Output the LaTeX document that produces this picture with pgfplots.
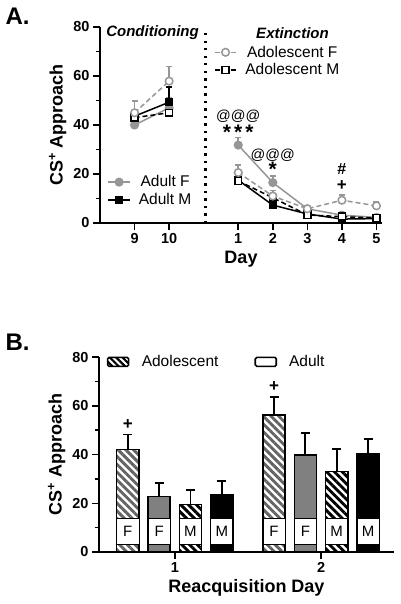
\documentclass[border=0pt]{standalone}
\usepackage{fontspec}
\setmainfont{Liberation Sans}
\usepackage{pgfplots}
\usepackage{pgfplotstable}
\pgfplotsset{compat=1.18}
\usetikzlibrary{patterns.meta}
\definecolor{lg}{RGB}{150,150,150}
\definecolor{bg}{RGB}{128,128,128}
\definecolor{hg}{RGB}{100,100,100}

\pgfplotstableread{
x AF AFe AM AMe DF DFe DM DMe
1 40.0 2.0 43.6 1.5 45.0 4.8 43.0 2.0
2 47.0 4.0 49.3 6.2 57.9 5.9 45.0 3.0
3 nan 0 nan 0 nan 0 nan 0
4 31.8 3.2 17.5 1.5 20.6 3.0 17.2 1.5
5 16.5 2.7 7.3 1.0 11.0 2.3 10.3 1.5
6 5.8 1.0 3.7 0.6 5.8 1.0 3.3 0.6
7 3.2 1.0 1.6 0.6 9.3 2.1 2.6 0.6
8 2.3 0.8 1.8 0.5 7.0 1.6 2.0 0.5
}\dataA

\pgfplotstableread{
x y e
0 42.1 6.1
4.67 56.3 7.2
}\adolF
\pgfplotstableread{
x y e
1 22.8 5.6
5.67 39.9 9.0
}\adultF
\pgfplotstableread{
x y e
2 19.4 5.9
6.67 33.1 9.3
}\adolM
\pgfplotstableread{
x y e
3 23.6 5.4
7.67 40.3 6.2
}\adultM

\pgfplotsset{
  common/.style={
    scale only axis,
    ymin=0, ymax=80,
    axis x line*=bottom, axis y line*=left,
    axis line style={line width=1.5pt},
    ytick={0,20,40,60,80}, minor ytick={10,30,50,70},
    tick style={line width=1.5pt, black},
    major tick length=7pt, minor tick length=4.5pt,
    tick align=outside,
    ticklabel style={font=\bfseries\fontsize{14.5}{14.5}\selectfont},
    /pgf/number format/assume math mode=true,
    label style={font=\bfseries\fontsize{18}{18}\selectfont},
    ylabel={CS\textsuperscript{+} Approach},
    clip=false,
  },
  lineleg/.style={legend image code/.code={
    \draw[mark repeat=2,mark phase=2,##1] plot coordinates {(0pt,0pt) (11pt,0pt) (22pt,0pt)};}},
  boxleg/.style={legend image code/.code={
    \draw[##1, rounded corners=1.5pt] (0pt,-4.5pt) rectangle (21pt,4.5pt);}},
}

\begin{document}
\begin{tikzpicture}
\useasboundingbox (0,0) rectangle (400pt,-604pt);

\node[anchor=west, font=\bfseries\fontsize{24}{24}\selectfont] at (2pt,-16pt) {A.};
\node[anchor=west, font=\bfseries\fontsize{24}{24}\selectfont] at (2pt,-342pt) {B.};

% ---------------- Panel A ----------------
\begin{axis}[common,
  at={(100pt,-223pt)}, anchor=south west,
  width=282pt, height=196pt,
  xmin=0, xmax=8.16,
  xtick={1,2,4,5,6,7,8}, xticklabels={9,10,1,2,3,4,5},
  xlabel={Day},
  unbounded coords=jump,
  lineleg,
  reverse legend,
  legend style={draw=none, fill=none, at={(axis cs:3.2,74)}, anchor=north west,
    font=\fontsize{15.5}{18}\selectfont, row sep=1pt,
    /tikz/every odd column/.append style={column sep=6pt}},
  error bars/y dir=plus, error bars/y explicit,
  error bars/error bar style={solid, line width=1.5pt},
  error bars/error mark options={solid, rotate=90, mark size=3pt, line width=1.5pt},
]
\addplot[lg, line width=1.5pt, mark=*, mark size=3.8pt, mark options={fill=lg, draw=lg}, forget plot]
  table[x=x, y=AF, y error=AFe] {\dataA};
\addplot[black, line width=1.5pt, mark=square*, mark size=3.4pt, mark options={fill=black}, forget plot]
  table[x=x, y=AM, y error=AMe] {\dataA};
\addplot[black, line width=1.5pt, dash pattern=on 5pt off 3pt, mark=square*, mark size=3.4pt, mark options={solid, fill=white, draw=black}]
  table[x=x, y=DM, y error=DMe] {\dataA};
\addlegendentry{Adolescent M}
\addplot[lg, line width=1.5pt, dash pattern=on 5pt off 3pt, mark=*, mark size=3.8pt, mark options={solid, fill=white, draw=lg}]
  table[x=x, y=DF, y error=DFe] {\dataA};
\addlegendentry{Adolescent F}

\draw[line width=2.2pt, dash pattern=on 2.2pt off 5.3pt] (axis cs:3.05,0) -- (axis cs:3.05,79);
\node[font=\bfseries\itshape\fontsize{15}{15}\selectfont] at (axis cs:1.52,77.6) {Conditioning};
\node[font=\bfseries\itshape\fontsize{15}{15}\selectfont] at (axis cs:5.57,77.6) {Extinction};

\node[inner sep=0pt, font=\fontsize{14.5}{14.5}\selectfont] at (axis cs:4,43.5) {@@@};
\node[inner sep=0pt, font=\bfseries\fontsize{21}{21}\selectfont] at (axis cs:4,37.2) {*\kern3pt*\kern3pt*};
\node[inner sep=0pt, font=\fontsize{14.5}{14.5}\selectfont] at (axis cs:5,27.8) {@@@};
\node[inner sep=0pt, font=\bfseries\fontsize{21}{21}\selectfont] at (axis cs:5,21.8) {*};
\node[inner sep=0pt, font=\bfseries\fontsize{16}{16}\selectfont] at (axis cs:7,22) {\#};
\node[inner sep=0pt, font=\bfseries\fontsize{17}{17}\selectfont] at (axis cs:7,15.5) {+};
\end{axis}

% Adult legend (overlay)
\begin{axis}[
  at={(100pt,-223pt)}, anchor=south west, scale only axis,
  width=282pt, height=196pt, xmin=0, xmax=8.16, ymin=0, ymax=80,
  hide axis, lineleg,
  legend style={draw=none, fill=none, at={(axis cs:0.12,21)}, anchor=north west,
    font=\fontsize{15.5}{18}\selectfont, row sep=1pt,
    /tikz/every odd column/.append style={column sep=6pt}},
]
\addlegendimage{lg, line width=1.5pt, mark=*, mark size=3.8pt, mark options={fill=lg, draw=lg}}
\addlegendentry{Adult F}
\addlegendimage{black, line width=1.5pt, mark=square*, mark size=3.4pt, mark options={fill=black}}
\addlegendentry{Adult M}
\end{axis}

% ---------------- Panel B ----------------
\begin{axis}[common,
  at={(99pt,-552pt)}, anchor=south west,
  width=295pt, height=195pt,
  xmin=-0.92, xmax=8.5,
  xtick={1.5,6.17}, xticklabels={1,2},
  xlabel={Reacquisition Day},
  ybar, bar width=0.71, bar shift=0pt,
  boxleg,
  legend columns=2,
  legend style={draw=none, fill=none, at={(axis cs:-0.78,78)}, anchor=west,
    font=\fontsize{15.5}{18}\selectfont,
    /tikz/every odd column/.append style={column sep=10pt},
    /tikz/every even column/.append style={column sep=34pt}},
  error bars/y dir=plus, error bars/y explicit,
  error bars/error bar style={black, line width=1.8pt},
  error bars/error mark options={black, rotate=90, mark size=4.5pt, line width=1.8pt},
]
\addplot[draw=black, line width=1.5pt, pattern={Lines[angle=-45,distance=5.5pt,line width=2.9pt]}, pattern color=hg, forget plot]
  table[x=x, y=y, y error=e] {\adolF};
\addplot[draw=black, line width=1.5pt, fill=bg, forget plot]
  table[x=x, y=y, y error=e] {\adultF};
\addplot[draw=black, line width=1.5pt, pattern={Lines[angle=-45,distance=5.5pt,line width=2.9pt]}, pattern color=black, forget plot]
  table[x=x, y=y, y error=e] {\adolM};
\addplot[draw=black, line width=1.5pt, fill=black, forget plot]
  table[x=x, y=y, y error=e] {\adultM};

\addlegendimage{draw=black, line width=1.6pt, pattern={Lines[angle=-45,distance=4.5pt,line width=2.2pt]}, pattern color=black}
\addlegendentry{Adolescent}
\addlegendimage{draw=black, line width=1.6pt, fill=white}
\addlegendentry{Adult}

\foreach \xx/\ll in {0/F,1/F,2/M,3/M,4.67/F,5.67/F,6.67/M,7.67/M}{
  \edef\tmp{\noexpand\node[fill=white, draw=black, line width=0.8pt, minimum width=22.2pt, minimum height=25.6pt, inner sep=0pt, font=\noexpand\fontsize{15}{15}\noexpand\selectfont] at (axis cs:\xx,8.45) {\ll};}
  \tmp
}
\node[font=\bfseries\fontsize{17}{17}\selectfont] at (axis cs:0,52.5) {+};
\node[font=\bfseries\fontsize{17}{17}\selectfont] at (axis cs:4.67,67.8) {+};
\end{axis}
\end{tikzpicture}
\end{document}
